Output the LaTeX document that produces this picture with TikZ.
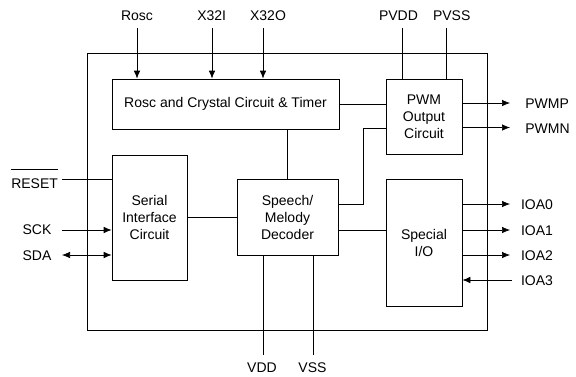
\documentclass[tikz,border=0pt]{standalone}
\usepackage{fontspec}
\setmainfont{Liberation Sans}
\usetikzlibrary{arrows.meta}

\begin{document}
\begin{tikzpicture}[x=1pt, y=-1pt, line width=0.7pt,
  block/.style={draw, align=center, inner sep=0pt,
                font=\fontsize{14}{17}\selectfont},
  pinlbl/.style={inner sep=0pt, font=\fontsize{14}{17}\selectfont},
  pin/.style={-{Latex[length=8pt,width=6.5pt]}},
  biopin/.style={{Latex[length=8pt,width=6.5pt]}-{Latex[length=8pt,width=6.5pt]}}
]
  \useasboundingbox (0,0) rectangle (576,376);

  % Chip outline
  \node[draw, minimum width=400pt, minimum height=277pt, inner sep=0pt] (chip) at (287,191.5) {};

  % Blocks
  \node[block, minimum width=227pt, minimum height=50pt] (osc) at (225.5,104) {Rosc and Crystal Circuit \& Timer};
  \node[block, minimum width=76pt, minimum height=75pt] (pwm) at (424,116.5) {PWM\\Output\\Circuit};
  \node[block, minimum width=75pt, minimum height=125pt] (serial) at (149.5,217.5) {Serial\\Interface\\Circuit};
  \node[block, minimum width=101pt, minimum height=76pt] (dec) at (287.5,217) {Speech/\\Melody\\Decoder};
  \node[block, minimum width=76pt, minimum height=127pt] (sio) at (424,242.5) {Special\\I/O};

  % Top pins
  \coordinate (rosc) at (137,28);
  \coordinate (x32i) at (212,28);
  \coordinate (x32o) at (263,28);
  \coordinate (pvdd) at (402,28);
  \coordinate (pvss) at (446,28);
  \node[pinlbl, anchor=base] (lrosc) at (137,20.5) {Rosc};
  \node[pinlbl, anchor=base] (lx32i) at (211.7,20.5) {X32I};
  \node[pinlbl, anchor=base] (lx32o) at (268,20.5) {X32O};
  \node[pinlbl, anchor=base] (lpvdd) at (398.5,20.5) {PVDD};
  \node[pinlbl, anchor=base] (lpvss) at (451.7,20.5) {PVSS};
  \draw[pin] (rosc) -- (rosc |- osc.north);
  \draw[pin] (x32i) -- (x32i |- osc.north);
  \draw[pin] (x32o) -- (x32o |- osc.north);
  \draw (pvdd) -- (pvdd |- pwm.north);
  \draw (pvss) -- (pvss |- pwm.north);

  % Left pins
  \coordinate (rst) at (62,179);
  \coordinate (sck) at (62,230);
  \coordinate (sda) at (62,255);
  \node[pinlbl, anchor=base east] (lrst) at (58.3,188.5) {$\overline{\mbox{RESET}\rule{0pt}{17.5pt}}$};
  \node[pinlbl, anchor=base east] (lsck) at (51.7,234.5) {SCK};
  \node[pinlbl, anchor=base east] (lsda) at (51.7,260) {SDA};
  \draw (rst) -- (rst -| serial.west);
  \draw[pin] (sck) -- (sck -| serial.west);
  \draw[biopin] (sda) -- (sda -| serial.west);

  % Right pins
  \coordinate (pwmp) at (510,103);
  \coordinate (pwmn) at (510,127.5);
  \coordinate (ioa0) at (510,204);
  \coordinate (ioa1) at (510,230);
  \coordinate (ioa2) at (510,255);
  \coordinate (ioa3) at (512,280);
  \node[pinlbl, anchor=base west] (lpwmp) at (525,108.5) {PWMP};
  \node[pinlbl, anchor=base west] (lpwmn) at (525,133.5) {PWMN};
  \node[pinlbl, anchor=base west] (lioa0) at (520.7,209) {IOA0};
  \node[pinlbl, anchor=base west] (lioa1) at (520.7,235) {IOA1};
  \node[pinlbl, anchor=base west] (lioa2) at (520.7,260) {IOA2};
  \node[pinlbl, anchor=base west] (lioa3) at (520.7,285) {IOA3};
  \draw[pin] (pwmp -| pwm.east) -- (pwmp);
  \draw[pin] (pwmn -| pwm.east) -- (pwmn);
  \draw[pin] (ioa0 -| sio.east) -- (ioa0);
  \draw[pin] (ioa1 -| sio.east) -- (ioa1);
  \draw[pin] (ioa2 -| sio.east) -- (ioa2);
  \draw[pin] (ioa3) -- (ioa3 -| sio.east);

  % Bottom pins
  \coordinate (vdd) at (263,355);
  \coordinate (vss) at (313,355);
  \node[pinlbl, anchor=base] (lvdd) at (262,372.7) {VDD};
  \node[pinlbl, anchor=base] (lvss) at (312.5,372.7) {VSS};
  \draw (vdd |- dec.south) -- (vdd);
  \draw (vss |- dec.south) -- (vss);

  % Internal links
  \coordinate (dp1) at (363,204);
  \coordinate (dp2) at (363,128);
  \draw (osc.east) -- (osc.east -| pwm.west);
  \draw (dec.north) -- (dec.north |- osc.south);
  \draw (dp1 -| dec.east) -- (dp1) -- (dp2) -- (dp2 -| pwm.west);
  \draw (serial.east) -- (serial.east -| dec.west);
  \draw (ioa1 -| dec.east) -- (ioa1 -| sio.west);
\end{tikzpicture}
\end{document}
